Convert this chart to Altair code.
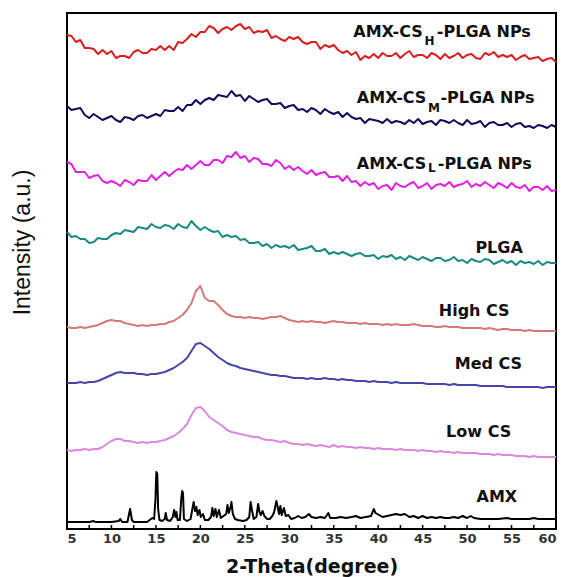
import altair as alt
import pandas as pd

# 2-theta sampling grid (degrees), 0.5 deg steps from 5 to 60
theta = [5.0 + 0.5 * i for i in range(111)]

# Intensities (a.u., stacking offsets included)
cs_h_plga = [
    494, 493, 487, 489, 481, 481, 480, 475, 479, 475,
    478, 471, 473, 473, 471, 477, 479, 476, 476, 480,
    479, 483, 479, 483, 479, 487, 486, 490, 495, 492,
    497, 497, 503, 501, 496, 500, 502, 499, 503, 505,
    500, 502, 496, 498, 497, 499, 491, 493, 490, 488,
    492, 490, 492, 487, 485, 487, 487, 480, 484, 482,
    484, 479, 476, 478, 474, 477, 469, 473, 471, 475,
    471, 476, 473, 473, 476, 471, 475, 478, 472, 474,
    474, 471, 476, 474, 470, 475, 471, 473, 476, 471,
    474, 475, 471, 470, 476, 474, 477, 472, 474, 472,
    474, 469, 472, 474, 470, 471, 472, 468, 470, 471,
    467]
cs_m_plga = [
    423, 419, 420, 421, 414, 411, 415, 412, 409, 411,
    413, 409, 407, 412, 411, 409, 413, 414, 411, 413,
    415, 413, 419, 418, 418, 422, 418, 424, 424, 429,
    425, 429, 431, 429, 434, 433, 432, 438, 433, 434,
    428, 433, 430, 427, 429, 430, 425, 425, 426, 421,
    423, 424, 419, 420, 417, 421, 419, 415, 420, 417,
    415, 417, 412, 416, 412, 410, 411, 406, 410, 409,
    408, 406, 410, 406, 408, 407, 405, 409, 406, 410,
    405, 407, 408, 404, 409, 408, 406, 409, 406, 404,
    409, 405, 406, 408, 402, 406, 407, 404, 404, 406,
    402, 405, 406, 402, 403, 401, 404, 403, 401, 404,
    402]
cs_l_plga = [
    367, 365, 357, 357, 357, 351, 353, 354, 348, 346,
    348, 346, 343, 349, 347, 344, 349, 348, 348, 354,
    349, 353, 357, 353, 357, 360, 359, 364, 360, 364,
    368, 364, 364, 369, 369, 366, 373, 372, 377, 371,
    373, 367, 371, 370, 365, 365, 363, 369, 366, 360,
    363, 359, 362, 358, 355, 359, 354, 356, 357, 352,
    352, 353, 348, 353, 347, 348, 343, 347, 344, 346,
    340, 343, 344, 339, 346, 343, 342, 345, 347, 341,
    343, 346, 340, 344, 345, 343, 347, 342, 344, 345,
    348, 342, 345, 343, 347, 344, 341, 346, 344, 341,
    346, 342, 341, 344, 338, 342, 342, 339, 343, 338,
    339]
plga = [
    297, 292, 293, 290, 290, 286, 287, 291, 290, 290,
    294, 296, 295, 299, 298, 297, 302, 301, 300, 305,
    302, 301, 304, 303, 300, 305, 302, 301, 308, 303,
    299, 302, 299, 297, 298, 292, 294, 292, 293, 289,
    290, 286, 286, 287, 283, 285, 281, 284, 282, 283,
    281, 284, 279, 280, 281, 283, 278, 278, 280, 275,
    277, 275, 277, 275, 273, 275, 276, 273, 273, 274,
    270, 273, 272, 274, 270, 272, 269, 273, 271, 269,
    272, 270, 268, 271, 271, 268, 269, 272, 268, 269,
    266, 270, 268, 267, 270, 269, 265, 267, 269, 266,
    268, 264, 268, 266, 267, 265, 268, 264, 267, 266,
    266]
high_cs = [
    202, 201, 201, 202, 201, 202, 203, 204, 206, 208,
    209, 208, 208, 206, 205, 204, 203, 204, 203, 204,
    204, 205, 205, 207, 208, 211, 214, 219, 226, 238,
    243, 231, 228, 228, 224, 219, 215, 213, 212, 212,
    211, 212, 211, 211, 210, 211, 212, 212, 213, 211,
    209, 208, 207, 208, 207, 208, 207, 207, 206, 207,
    208, 207, 207, 206, 206, 206, 205, 206, 205, 205,
    205, 204, 205, 204, 205, 204, 204, 204, 205, 204,
    203, 203, 203, 202, 202, 203, 202, 202, 202, 201,
    201, 201, 201, 201, 200, 201, 200, 199, 200, 200,
    199, 199, 199, 198, 199, 198, 198, 198, 198, 198,
    198]
med_cs = [
    146, 146, 146, 147, 146, 147, 147, 148, 150, 152,
    154, 156, 157, 156, 156, 156, 155, 155, 154, 155,
    155, 156, 157, 159, 161, 164, 167, 171, 178, 185,
    186, 183, 180, 176, 172, 169, 166, 164, 163, 161,
    160, 159, 158, 157, 156, 155, 154, 154, 153, 153,
    152, 151, 151, 151, 150, 151, 150, 150, 151, 150,
    150, 149, 150, 149, 149, 148, 148, 148, 147, 148,
    147, 147, 147, 146, 147, 146, 146, 146, 146, 146,
    146, 145, 145, 145, 145, 145, 144, 145, 144, 144,
    144, 144, 144, 143, 143, 143, 143, 143, 143, 142,
    142, 142, 142, 142, 142, 142, 142, 141, 142, 142,
    142]
low_cs = [
    79, 78, 79, 79, 80, 79, 80, 80, 82, 85,
    88, 90, 90, 88, 88, 87, 86, 87, 86, 87,
    87, 88, 89, 91, 93, 96, 100, 105, 114, 121,
    122, 118, 112, 109, 106, 103, 99, 97, 96, 95,
    94, 93, 92, 92, 90, 89, 89, 88, 87, 88,
    86, 85, 85, 84, 85, 84, 83, 84, 83, 82,
    84, 82, 83, 82, 82, 81, 82, 81, 81, 80,
    81, 80, 80, 80, 79, 80, 79, 79, 79, 78,
    79, 78, 78, 77, 78, 77, 77, 76, 77, 76,
    76, 76, 76, 75, 75, 75, 74, 75, 74, 74,
    74, 73, 73, 73, 72, 73, 72, 72, 72, 72,
    72]

# AMX: crystalline, sampled at its own 2-theta points
amx_theta = [
    5.0, 7.5, 8.0, 8.2, 10.0, 10.8, 11.0, 11.2, 11.8, 12.0,
    12.1, 12.3, 12.5, 14.0, 14.3, 14.6, 14.8, 14.95, 15.05, 15.15,
    15.25, 15.4, 15.7, 16.0, 16.1, 16.25, 16.6, 16.9, 17.05, 17.2,
    17.3, 17.45, 17.7, 17.85, 17.95, 18.05, 18.15, 18.5, 18.9, 19.1,
    19.25, 19.4, 19.55, 19.7, 19.9, 20.05, 20.3, 20.5, 20.9, 21.2,
    21.35, 21.5, 21.7, 21.85, 22.1, 22.3, 22.6, 22.9, 23.05, 23.2,
    23.4, 23.5, 23.65, 23.9, 24.2, 24.8, 25.2, 25.5, 25.65, 25.8,
    26.0, 26.3, 26.5, 26.65, 26.8, 27.0, 27.2, 27.5, 27.8, 28.1,
    28.3, 28.55, 28.7, 28.85, 29.0, 29.15, 29.4, 29.6, 29.9, 30.2,
    30.6, 31.0, 31.4, 31.8, 32.2, 32.5, 33.0, 33.5, 34.0, 34.4,
    34.6, 35.2, 35.8, 36.4, 37.0, 37.5, 38.0, 38.6, 39.2, 39.5,
    39.7, 40.1, 40.5, 41.0, 41.5, 42.0, 42.5, 43.0, 43.5, 44.0,
    44.5, 45.0, 45.5, 46.0, 46.5, 47.0, 47.5, 48.0, 48.5, 49.0,
    49.5, 50.0, 50.4, 50.8, 51.5, 52.5, 53.5, 54.5, 55.0, 56.0,
    57.0, 57.5, 58.0, 59.0, 60.0]
amx = [
    7, 7, 8, 7, 7, 8, 10, 7, 7, 16,
    20, 9, 7, 7, 9, 11, 10, 30, 57, 55,
    20, 9, 8, 10, 16, 9, 8, 12, 19, 12,
    17, 9, 9, 30, 38, 36, 10, 8, 10, 20,
    27, 18, 22, 14, 19, 12, 15, 9, 9, 12,
    21, 13, 20, 12, 19, 11, 13, 15, 24, 16,
    22, 27, 15, 10, 9, 8, 9, 12, 27, 19,
    10, 12, 25, 17, 14, 18, 13, 10, 10, 13,
    17, 28, 22, 15, 23, 14, 21, 13, 14, 10,
    11, 13, 11, 12, 15, 12, 11, 12, 11, 16,
    11, 11, 12, 11, 12, 13, 11, 12, 13, 20,
    16, 14, 12, 13, 14, 15, 14, 15, 12, 13,
    11, 13, 11, 12, 11, 12, 11, 11, 12, 11,
    13, 11, 13, 11, 10, 10, 10, 11, 10, 10,
    10, 11, 10, 10, 10]

names = ["AMX-CSH-PLGA NPs", "AMX-CSM-PLGA NPs", "AMX-CSL-PLGA NPs", "PLGA",
         "High CS", "Med CS", "Low CS", "AMX"]
colors = ["#d81e1e", "#0d0d5c", "#e01ee0", "#178a82",
          "#d47878", "#4646a6", "#dd88dd", "#000000"]
widths = [2.0, 2.0, 2.0, 2.0, 1.3, 1.3, 1.3, 1.6]

grid_series = [cs_h_plga, cs_m_plga, cs_l_plga, plga, high_cs, med_cs, low_cs]
for s in grid_series:
    assert len(s) == len(theta), len(s)
assert len(amx) == len(amx_theta)

frames = [pd.DataFrame({"theta": theta, "intensity": vals, "series": nm})
          for nm, vals in zip(names[:7], grid_series)]
frames.append(pd.DataFrame({"theta": amx_theta, "intensity": amx, "series": "AMX"}))
df = pd.concat(frames, ignore_index=True)

# labels
lab_left_text = ["AMX-CS", "-PLGA NPs", "AMX-CS", "-PLGA NPs", "AMX-CS", "-PLGA NPs"]
lab_left_theta = [37.2, 46.6, 37.6, 47.0, 37.6, 46.7]
lab_left_int = [497, 497, 431, 431, 365, 365]
sub_text = ["H", "M", "L"]
sub_theta = [45.2, 45.6, 45.6]
sub_int = [488, 421, 361]
lab_c_text = ["PLGA", "High CS", "Med CS", "Low CS", "AMX"]
lab_c_theta = [53.6, 50.8, 52.4, 51.3, 53.35]
lab_c_int = [281, 218, 165, 97, 32]

x_ticks = [5, 10, 15, 20, 25, 30, 35, 40, 45, 50, 55, 60]
minor_ticks = [5 + 2.5 * i for i in range(23)]

xs = alt.Scale(domain=[5, 60], nice=False, zero=False)
ys = alt.Scale(domain=[0, 516], nice=False, zero=False)

base_x = alt.X("theta:Q", scale=xs,
               axis=alt.Axis(values=x_ticks, title="2-Theta(degree)", ticks=False,
                             domain=False, grid=False, labelFont="DejaVu Sans",
                             labelFontWeight="bold", labelFontSize=13, labelColor="#333333",
                             labelPadding=3, titleFont="DejaVu Sans", titleFontWeight="bold",
                             titleFontSize=19, titleColor="#111111", titleY=43,
                             titleBaseline="alphabetic"))
base_y = alt.Y("intensity:Q", scale=ys,
               axis=alt.Axis(title="Intensity (a.u.)", labels=False, ticks=False, domain=False,
                             grid=False, titleFont="Liberation Sans", titleFontWeight="normal",
                             titleFontSize=23, titleColor="#111111", titleX=-45, titleY=229,
                             titleAngle=270, titleAlign="center", titleBaseline="middle"))

lines = alt.Chart(df).mark_line(strokeJoin="round").encode(
    x=base_x, y=base_y,
    color=alt.Color("series:N", scale=alt.Scale(domain=names, range=colors), legend=None),
    strokeWidth=alt.StrokeWidth("series:N", scale=alt.Scale(domain=names, range=widths), legend=None),
    order="theta:Q",
)

ticks = alt.Chart(pd.DataFrame({"t": minor_ticks})).mark_rule(color="black", strokeWidth=1.5).encode(
    x=alt.X("t:Q", scale=xs), y=alt.datum(0), y2=alt.datum(4))

left_labels = alt.Chart(pd.DataFrame({"txt": lab_left_text, "t": lab_left_theta, "v": lab_left_int})).mark_text(
    align="left", baseline="middle", font="DejaVu Sans", fontWeight="bold", fontSize=16, color="#111111"
).encode(x=alt.X("t:Q", scale=xs), y=alt.Y("v:Q", scale=ys), text="txt:N")

sub_labels = alt.Chart(pd.DataFrame({"txt": sub_text, "t": sub_theta, "v": sub_int})).mark_text(
    align="left", baseline="middle", font="DejaVu Sans", fontWeight="bold", fontSize=12, color="#111111"
).encode(x=alt.X("t:Q", scale=xs), y=alt.Y("v:Q", scale=ys), text="txt:N")

c_labels = alt.Chart(pd.DataFrame({"txt": lab_c_text, "t": lab_c_theta, "v": lab_c_int})).mark_text(
    align="center", baseline="middle", font="DejaVu Sans", fontWeight="bold", fontSize=16, color="#111111"
).encode(x=alt.X("t:Q", scale=xs), y=alt.Y("v:Q", scale=ys), text="txt:N")

chart = alt.layer(lines, ticks, left_labels, sub_labels, c_labels).properties(
    width=489, height=516,
    autosize=alt.AutoSizeParams(type="none"),
    padding={"left": 67, "top": 13, "right": 12, "bottom": 48},
    background="white",
).configure_view(stroke="black", strokeWidth=2)

chart.save("out.html", embed_options={"renderer": "svg", "actions": False})
